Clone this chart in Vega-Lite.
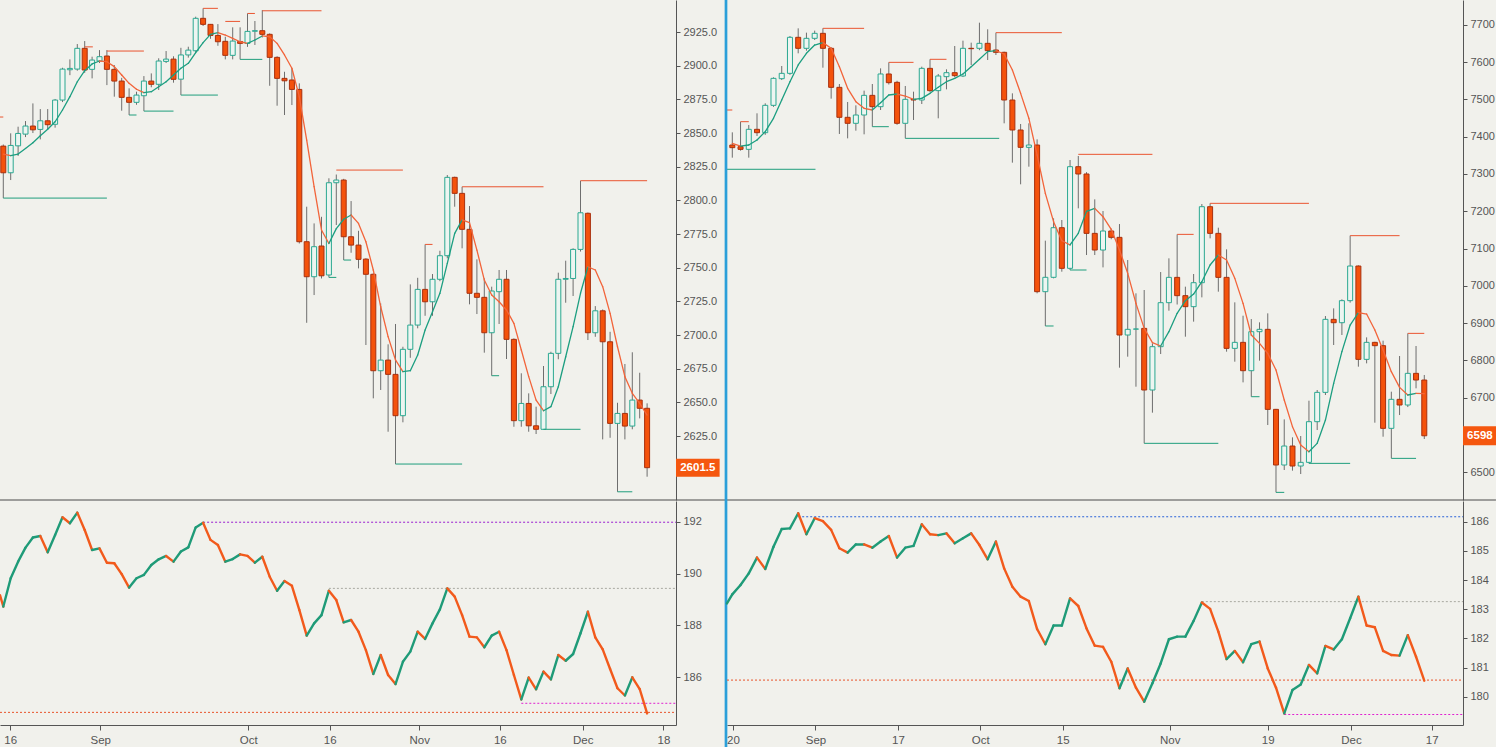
{
  "$schema": "https://vega.github.io/schema/vega-lite/v6.json",
  "width": 676,
  "height": 725,
  "padding": {"left": 0, "top": 0, "right": 820, "bottom": 22},
  "autosize": {"type": "none"},
  "background": "#f1f1ec",
  "config": {
    "view": {"stroke": null},
    "axis": {"labelFont": "Liberation Sans", "labelFontSize": 11, "labelColor": "#555555", "domainColor": "#555555", "tickColor": "#555555", "tickSize": 4, "grid": false, "labelPadding": 3}
  },
  "datasets": {
    "sp": [
      {"i":0,"o":2840.3,"h":2841.5,"l":2801.7,"c":2820.5,"e":2834.4},
      {"i":1,"o":2820.5,"h":2849.8,"l":2815.1,"c":2840.8,"e":2833.2},
      {"i":2,"o":2840.5,"h":2854.7,"l":2833,"c":2849.7,"e":2834.4},
      {"i":3,"o":2849.2,"h":2858.9,"l":2847,"c":2855.2,"e":2838.6},
      {"i":4,"o":2855.2,"h":2872,"l":2850,"c":2852.4,"e":2842.8},
      {"i":5,"o":2852.7,"h":2867.8,"l":2845.3,"c":2859.1,"e":2848},
      {"i":6,"o":2859.1,"h":2867.8,"l":2853,"c":2856.2,"e":2852.8},
      {"i":7,"o":2856.5,"h":2875.3,"l":2854,"c":2874.5,"e":2858.4},
      {"i":8,"o":2874.5,"h":2898.5,"l":2873,"c":2897.5,"e":2867.1},
      {"i":9,"o":2897,"h":2904.7,"l":2893,"c":2898,"e":2877},
      {"i":10,"o":2897.5,"h":2916.1,"l":2896.3,"c":2912.9,"e":2888.1},
      {"i":11,"o":2912.9,"h":2918.3,"l":2894.7,"c":2896.8,"e":2896.3},
      {"i":12,"o":2897.3,"h":2906.7,"l":2890.6,"c":2904.2,"e":2901.3},
      {"i":13,"o":2903.5,"h":2911.6,"l":2902,"c":2906.7,"e":2903.5},
      {"i":14,"o":2907.2,"h":2911.6,"l":2885.6,"c":2897.3,"e":2903},
      {"i":15,"o":2897.3,"h":2900.5,"l":2877,"c":2888.6,"e":2899.3},
      {"i":16,"o":2888.6,"h":2891,"l":2866.6,"c":2876.5,"e":2893.1},
      {"i":17,"o":2876.5,"h":2883.2,"l":2863.4,"c":2872.8,"e":2886.9},
      {"i":18,"o":2872.8,"h":2880.7,"l":2871,"c":2878.2,"e":2882.5},
      {"i":19,"o":2877.7,"h":2892.3,"l":2866.3,"c":2888.6,"e":2880},
      {"i":20,"o":2888.6,"h":2894.3,"l":2884,"c":2886.2,"e":2880.7},
      {"i":21,"o":2886.2,"h":2905.5,"l":2882,"c":2903.5,"e":2884.4},
      {"i":22,"o":2903.2,"h":2910.9,"l":2902,"c":2904.9,"e":2888.1},
      {"i":23,"o":2904.9,"h":2907,"l":2887.4,"c":2889.9,"e":2893.1},
      {"i":24,"o":2890,"h":2913.3,"l":2878.2,"c":2908,"e":2898.1},
      {"i":25,"o":2908,"h":2914.1,"l":2906,"c":2911.6,"e":2901.8},
      {"i":26,"o":2911.1,"h":2936.4,"l":2910,"c":2935.2,"e":2909.7},
      {"i":27,"o":2935.2,"h":2942.6,"l":2929.5,"c":2930.7,"e":2917.1},
      {"i":28,"o":2930.7,"h":2931,"l":2920,"c":2922.5,"e":2923.3},
      {"i":29,"o":2922.5,"h":2930.9,"l":2914.8,"c":2917.8,"e":2924.5},
      {"i":30,"o":2918.1,"h":2921.5,"l":2904.7,"c":2907.7,"e":2922.8},
      {"i":31,"o":2907.7,"h":2928.5,"l":2904.7,"c":2918.3,"e":2920.3},
      {"i":32,"o":2918,"h":2928.5,"l":2904.7,"c":2916.6,"e":2917.8},
      {"i":33,"o":2916.6,"h":2938.8,"l":2914,"c":2925.5,"e":2916.6},
      {"i":34,"o":2925.6,"h":2933.2,"l":2915.4,"c":2926,"e":2919.1},
      {"i":35,"o":2926,"h":2941.3,"l":2921,"c":2923.3,"e":2922.1},
      {"i":36,"o":2923.3,"h":2924,"l":2885.1,"c":2906.2,"e":2921.5},
      {"i":37,"o":2906.2,"h":2907,"l":2870.3,"c":2890.6,"e":2916.6},
      {"i":38,"o":2890.6,"h":2895.5,"l":2863.4,"c":2888.8,"e":2908},
      {"i":39,"o":2889.4,"h":2898,"l":2870.8,"c":2882.4,"e":2898.1},
      {"i":40,"o":2882.4,"h":2886.9,"l":2768,"c":2769.3,"e":2877},
      {"i":41,"o":2769.3,"h":2795.3,"l":2709.1,"c":2743.3,"e":2844.8},
      {"i":42,"o":2743.3,"h":2782.9,"l":2729.7,"c":2765.6,"e":2810.2},
      {"i":43,"o":2766.1,"h":2787.8,"l":2742,"c":2744,"e":2778},
      {"i":44,"o":2744.6,"h":2816.4,"l":2742.8,"c":2813.1,"e":2768},
      {"i":45,"o":2813.1,"h":2819.2,"l":2781.7,"c":2815.1,"e":2779},
      {"i":46,"o":2815.1,"h":2816,"l":2755.7,"c":2773,"e":2786},
      {"i":47,"o":2773,"h":2799.5,"l":2761.1,"c":2766.8,"e":2789.1},
      {"i":48,"o":2766.8,"h":2777.4,"l":2749.5,"c":2756.2,"e":2782.9},
      {"i":49,"o":2756.4,"h":2757,"l":2692.6,"c":2745.1,"e":2769.3},
      {"i":50,"o":2745.1,"h":2746,"l":2653,"c":2673.5,"e":2748.3},
      {"i":51,"o":2673.5,"h":2723.5,"l":2659.2,"c":2681.4,"e":2721},
      {"i":52,"o":2681.4,"h":2693.1,"l":2628.2,"c":2670.8,"e":2698.8},
      {"i":53,"o":2670.8,"h":2708.2,"l":2604.2,"c":2640.1,"e":2681.5},
      {"i":54,"o":2640.1,"h":2691.3,"l":2635.2,"c":2689.4,"e":2672.8},
      {"i":55,"o":2689.4,"h":2737.6,"l":2683.1,"c":2707.4,"e":2673.5},
      {"i":56,"o":2707.4,"h":2742.5,"l":2705,"c":2733.9,"e":2685.2},
      {"i":57,"o":2733.9,"h":2767.3,"l":2714.3,"c":2724.7,"e":2703.7},
      {"i":58,"o":2724.7,"h":2745.3,"l":2714.3,"c":2741.4,"e":2717.3},
      {"i":59,"o":2741.4,"h":2762.6,"l":2740,"c":2758.9,"e":2731},
      {"i":60,"o":2758.9,"h":2818.8,"l":2757,"c":2817.1,"e":2753.2},
      {"i":61,"o":2817.1,"h":2817.6,"l":2795.3,"c":2805.2,"e":2775.5},
      {"i":62,"o":2805.2,"h":2810.1,"l":2764.4,"c":2778.5,"e":2785.5},
      {"i":63,"o":2778.5,"h":2795.8,"l":2722.8,"c":2731,"e":2783.5},
      {"i":64,"o":2731,"h":2756.2,"l":2715.6,"c":2728,"e":2763.1},
      {"i":65,"o":2728,"h":2742.1,"l":2686.9,"c":2701.7,"e":2740.9},
      {"i":66,"o":2701.7,"h":2735.9,"l":2669.8,"c":2732.7,"e":2729.7},
      {"i":67,"o":2732.2,"h":2748.3,"l":2708.2,"c":2741.4,"e":2724.7},
      {"i":68,"o":2741.4,"h":2748.3,"l":2682.2,"c":2696.8,"e":2718.6},
      {"i":69,"o":2696.8,"h":2697.5,"l":2631.9,"c":2636.4,"e":2708.7},
      {"i":70,"o":2636.4,"h":2671.6,"l":2631.9,"c":2649.2,"e":2688.9},
      {"i":71,"o":2649.2,"h":2656.7,"l":2628.2,"c":2632.6,"e":2669.1},
      {"i":72,"o":2632.6,"h":2646.8,"l":2626.5,"c":2630,"e":2651.7},
      {"i":73,"o":2630,"h":2677,"l":2630,"c":2661.6,"e":2643.8},
      {"i":74,"o":2661.6,"h":2687.6,"l":2656.2,"c":2686.4,"e":2646.8},
      {"i":75,"o":2686.4,"h":2746.3,"l":2682,"c":2741.4,"e":2661.6},
      {"i":76,"o":2741.4,"h":2755.2,"l":2724,"c":2742,"e":2683.9},
      {"i":77,"o":2742,"h":2764.4,"l":2729,"c":2763.6,"e":2706.2},
      {"i":78,"o":2763.6,"h":2814.6,"l":2762,"c":2790.8,"e":2731},
      {"i":79,"o":2790.4,"h":2791,"l":2696.3,"c":2701.7,"e":2750.7},
      {"i":80,"o":2701.7,"h":2721.5,"l":2698.7,"c":2718,"e":2748.3},
      {"i":81,"o":2718,"h":2719,"l":2622.5,"c":2695,"e":2735.9},
      {"i":82,"o":2695,"h":2702.4,"l":2623.7,"c":2634.4,"e":2716.1},
      {"i":83,"o":2634.4,"h":2649.7,"l":2583.6,"c":2641.8,"e":2691.3},
      {"i":84,"o":2641.8,"h":2678.5,"l":2622.5,"c":2632.4,"e":2669.1},
      {"i":85,"o":2632.4,"h":2687.2,"l":2630,"c":2651.7,"e":2656.7},
      {"i":86,"o":2651.7,"h":2672,"l":2638.1,"c":2645.6,"e":2649.3},
      {"i":87,"o":2645.6,"h":2649.3,"l":2594.8,"c":2601.5,"e":2640.6}
    ],
    "spL": [
      {"a":0,"b":14,"v":2801.7,"t":"g"},
      {"a":-0.45,"b":0,"v":2861.9,"t":"r"},
      {"a":11,"b":12.1,"v":2914,"t":"r"},
      {"a":14,"b":19,"v":2910.9,"t":"r"},
      {"a":17,"b":18,"v":2863.4,"t":"g"},
      {"a":19,"b":23,"v":2866.3,"t":"g"},
      {"a":24,"b":29,"v":2878.2,"t":"g"},
      {"a":27,"b":29,"v":2942.6,"t":"r"},
      {"a":30,"b":32,"v":2932.9,"t":"r"},
      {"a":32,"b":35,"v":2904.7,"t":"g"},
      {"a":33,"b":34,"v":2938.8,"t":"r"},
      {"a":35,"b":43,"v":2940.8,"t":"r"},
      {"a":44,"b":45,"v":2742.8,"t":"g"},
      {"a":45,"b":54,"v":2822.5,"t":"r"},
      {"a":46,"b":47,"v":2755.7,"t":"g"},
      {"a":53,"b":62,"v":2604.2,"t":"g"},
      {"a":57,"b":58,"v":2767.3,"t":"r"},
      {"a":62,"b":73,"v":2810.1,"t":"r"},
      {"a":66,"b":67,"v":2669.8,"t":"g"},
      {"a":73,"b":78,"v":2630,"t":"g"},
      {"a":78,"b":87,"v":2814.6,"t":"r"},
      {"a":83,"b":85,"v":2583.6,"t":"g"}
    ],
    "spI": [
      {"i":-0.45,"v":189.17},{"i":0,"v":188.73},{"i":1,"v":189.82},{"i":2,"v":190.46},{"i":3,"v":191.0},
      {"i":4,"v":191.39},{"i":5,"v":191.45},{"i":6,"v":190.82},{"i":7,"v":191.49},{"i":8,"v":192.17},
      {"i":9,"v":191.94},{"i":10,"v":192.35},{"i":11,"v":191.68},{"i":12,"v":190.91},{"i":13,"v":190.97},
      {"i":14,"v":190.42},{"i":15,"v":190.40},{"i":16,"v":189.98},{"i":17,"v":189.46},{"i":18,"v":189.82},
      {"i":19,"v":189.95},{"i":20,"v":190.33},{"i":21,"v":190.55},{"i":22,"v":190.68},{"i":23,"v":190.46},
      {"i":24,"v":190.85},{"i":25,"v":191.01},{"i":26,"v":191.78},{"i":27,"v":191.96},{"i":28,"v":191.30},
      {"i":29,"v":191.10},{"i":30,"v":190.46},{"i":31,"v":190.56},{"i":32,"v":190.74},{"i":33,"v":190.68},
      {"i":34,"v":190.42},{"i":35,"v":190.65},{"i":36,"v":189.88},{"i":37,"v":189.34},{"i":38,"v":189.71},
      {"i":39,"v":189.53},{"i":40,"v":188.60},{"i":41,"v":187.61},{"i":42,"v":188.08},{"i":43,"v":188.40},
      {"i":44,"v":189.34},{"i":45,"v":188.98},{"i":46,"v":188.12},{"i":47,"v":188.21},{"i":48,"v":187.76},
      {"i":49,"v":187.05},{"i":50,"v":186.13},{"i":51,"v":186.86},{"i":52,"v":186.09},{"i":53,"v":185.74},
      {"i":54,"v":186.60},{"i":55,"v":186.99},{"i":56,"v":187.76},{"i":57,"v":187.48},{"i":58,"v":188.08},
      {"i":59,"v":188.62},{"i":60,"v":189.43},{"i":61,"v":189.11},{"i":62,"v":188.40},{"i":63,"v":187.57},
      {"i":64,"v":187.54},{"i":65,"v":187.16},{"i":66,"v":187.61},{"i":67,"v":187.76},{"i":68,"v":187.05},
      {"i":69,"v":186.09},{"i":70,"v":185.15},{"i":71,"v":185.99},{"i":72,"v":185.54},{"i":73,"v":186.22},
      {"i":74,"v":185.92},{"i":75,"v":186.86},{"i":76,"v":186.64},{"i":77,"v":186.90},{"i":78,"v":187.70},
      {"i":79,"v":188.53},{"i":80,"v":187.54},{"i":81,"v":187.08},{"i":82,"v":186.32},{"i":83,"v":185.58},
      {"i":84,"v":185.30},{"i":85,"v":186.0},{"i":86,"v":185.55},{"i":87,"v":184.61}
    ],
    "spD": [
      {"a":27,"b":90.905,"v":191.98,"col":"#9a1ed0"},
      {"a":44,"b":90.905,"v":189.43,"col":"#a8a8a0"},
      {"a":70,"b":90.905,"v":185.0,"col":"#e020d0"},
      {"a":-0.446,"b":90.905,"v":184.65,"col":"#e8542a"}
    ],
    "nq": [
      {"i":0,"o":7377.7,"h":7411.7,"l":7343.8,"c":7370.6,"e":7382.2},
      {"i":1,"o":7373.3,"h":7440.3,"l":7362.6,"c":7366.1,"e":7375},
      {"i":2,"o":7366.1,"h":7431.4,"l":7343.8,"c":7419.8,"e":7377.7},
      {"i":3,"o":7419.8,"h":7462.7,"l":7401.9,"c":7410.8,"e":7391.2},
      {"i":4,"o":7410.8,"h":7489.5,"l":7405,"c":7484.1,"e":7413.5},
      {"i":5,"o":7484.1,"h":7559.2,"l":7480,"c":7556.5,"e":7449.3},
      {"i":6,"o":7555.6,"h":7589.6,"l":7552,"c":7569.9,"e":7498.4},
      {"i":7,"o":7569.9,"h":7670,"l":7566,"c":7666.5,"e":7547.6},
      {"i":8,"o":7666.5,"h":7690.6,"l":7623.6,"c":7637,"e":7592.3},
      {"i":9,"o":7637,"h":7679,"l":7630.7,"c":7663.8,"e":7623.6},
      {"i":10,"o":7663.8,"h":7684.4,"l":7659.3,"c":7677.2,"e":7645.9},
      {"i":11,"o":7677.2,"h":7690.6,"l":7585.1,"c":7637,"e":7652.2},
      {"i":12,"o":7637,"h":7640,"l":7502,"c":7532.4,"e":7637},
      {"i":13,"o":7532.4,"h":7541.3,"l":7407.3,"c":7452,"e":7587.8},
      {"i":14,"o":7452,"h":7493.1,"l":7395.6,"c":7435.9,"e":7529.7},
      {"i":15,"o":7435.9,"h":7484.1,"l":7416.2,"c":7458.2,"e":7494},
      {"i":16,"o":7458.2,"h":7523.5,"l":7406.4,"c":7510.9,"e":7476.1},
      {"i":17,"o":7510.9,"h":7541.3,"l":7426.9,"c":7480.5,"e":7471.6},
      {"i":18,"o":7480.5,"h":7583.3,"l":7471.6,"c":7568.2,"e":7491.3},
      {"i":19,"o":7568.2,"h":7599.4,"l":7540,"c":7544.9,"e":7511.8},
      {"i":20,"o":7545.8,"h":7550,"l":7432,"c":7435.9,"e":7514.5},
      {"i":21,"o":7435.9,"h":7536,"l":7395.6,"c":7500.2,"e":7509.1},
      {"i":22,"o":7500.2,"h":7520.8,"l":7444.8,"c":7498.4,"e":7500.2},
      {"i":23,"o":7498.4,"h":7587.8,"l":7487.7,"c":7583.3,"e":7502.9},
      {"i":24,"o":7583.3,"h":7607.5,"l":7520,"c":7523.5,"e":7516.3},
      {"i":25,"o":7523.5,"h":7568.2,"l":7449.3,"c":7562.8,"e":7532.4},
      {"i":26,"o":7561,"h":7580.7,"l":7527,"c":7571.7,"e":7547.6},
      {"i":27,"o":7571.7,"h":7643.2,"l":7560,"c":7563.7,"e":7556.5},
      {"i":28,"o":7562.8,"h":7657.5,"l":7560,"c":7637,"e":7568.2},
      {"i":29,"o":7637,"h":7652.2,"l":7592.3,"c":7636,"e":7587.8},
      {"i":30,"o":7637,"h":7705.8,"l":7632,"c":7650.4,"e":7607.5},
      {"i":31,"o":7650.4,"h":7688,"l":7605.7,"c":7630.7,"e":7628.1},
      {"i":32,"o":7632.5,"h":7679,"l":7619.1,"c":7626.3,"e":7630.7},
      {"i":33,"o":7626.3,"h":7628,"l":7435.9,"c":7498.4,"e":7621.8},
      {"i":34,"o":7498.4,"h":7516.3,"l":7330.4,"c":7418,"e":7578.9},
      {"i":35,"o":7418,"h":7434.1,"l":7272.3,"c":7371.5,"e":7516.3},
      {"i":36,"o":7371.5,"h":7435.9,"l":7319.6,"c":7377.7,"e":7449.3},
      {"i":37,"o":7377.7,"h":7392.9,"l":6980,"c":6984.4,"e":7351},
      {"i":38,"o":6984.4,"h":7121.2,"l":6892.4,"c":7022.9,"e":7248.1},
      {"i":39,"o":7022.9,"h":7181.1,"l":7020.2,"c":7156,"e":7172.2},
      {"i":40,"o":7156,"h":7176.6,"l":7038,"c":7047,"e":7121.2},
      {"i":41,"o":7047,"h":7337.5,"l":7042.5,"c":7319.6,"e":7109.6},
      {"i":42,"o":7319.6,"h":7348.2,"l":7207.9,"c":7300,"e":7140.9},
      {"i":43,"o":7300,"h":7305,"l":7082.7,"c":7140.8,"e":7200},
      {"i":44,"o":7140.8,"h":7232,"l":7082.7,"c":7096.1,"e":7207.9},
      {"i":45,"o":7096.1,"h":7200.7,"l":7049.6,"c":7147.1,"e":7185.5},
      {"i":46,"o":7147.1,"h":7153.3,"l":7125,"c":7130.1,"e":7151.6},
      {"i":47,"o":7130.1,"h":7165.8,"l":6780.6,"c":6868.2,"e":7096.1},
      {"i":48,"o":6868.2,"h":7069.3,"l":6810.1,"c":6883.4,"e":7033.6},
      {"i":49,"o":6884,"h":6980,"l":6729.6,"c":6884.3,"e":6953.1},
      {"i":50,"o":6886,"h":6988.9,"l":6577.7,"c":6720.7,"e":6886},
      {"i":51,"o":6720.7,"h":6845.8,"l":6659.9,"c":6836.9,"e":6847.6},
      {"i":52,"o":6836.9,"h":7037.1,"l":6817.2,"c":6954.9,"e":6838.7},
      {"i":53,"o":6954.9,"h":7073.8,"l":6933.4,"c":7022.8,"e":6877.1},
      {"i":54,"o":7022.8,"h":7138.1,"l":6950,"c":6973.7,"e":6926.3},
      {"i":55,"o":6973.7,"h":6997.8,"l":6863.7,"c":6944.2,"e":6960.3},
      {"i":56,"o":6944.2,"h":7031.8,"l":6904,"c":7008.5,"e":6978.1},
      {"i":57,"o":7008.5,"h":7219.5,"l":6969.2,"c":7212.3,"e":7011.2},
      {"i":58,"o":7212.3,"h":7221.3,"l":7127.4,"c":7140.8,"e":7055.9},
      {"i":59,"o":7140.8,"h":7156,"l":6984.4,"c":7022.8,"e":7082.7},
      {"i":60,"o":7022.8,"h":7097.9,"l":6823.5,"c":6832.4,"e":7069.3},
      {"i":61,"o":6832.4,"h":6955.8,"l":6796.7,"c":6848.5,"e":7020.2},
      {"i":62,"o":6848.5,"h":6920,"l":6741.2,"c":6772.5,"e":6953.1},
      {"i":63,"o":6772.5,"h":6911,"l":6702.8,"c":6877.1,"e":6868.2},
      {"i":64,"o":6877.1,"h":6902.2,"l":6799.4,"c":6883.4,"e":6845.8},
      {"i":65,"o":6883.4,"h":6926.3,"l":6626.8,"c":6668.8,"e":6819},
      {"i":66,"o":6668.8,"h":6670,"l":6446.2,"c":6519.6,"e":6774.3},
      {"i":67,"o":6519.6,"h":6642,"l":6506.2,"c":6570.5,"e":6693.9},
      {"i":68,"o":6570.5,"h":6593.8,"l":6504.4,"c":6516.9,"e":6622.4},
      {"i":69,"o":6516.9,"h":6597.3,"l":6495.4,"c":6526.7,"e":6573.2},
      {"i":70,"o":6526.7,"h":6692,"l":6524,"c":6635.8,"e":6555.3},
      {"i":71,"o":6635.8,"h":6720.7,"l":6613.4,"c":6714.4,"e":6577.7},
      {"i":72,"o":6714.4,"h":6919.1,"l":6707.3,"c":6910.2,"e":6640.2},
      {"i":73,"o":6910.2,"h":6939.7,"l":6841.4,"c":6901.2,"e":6738.6},
      {"i":74,"o":6901.2,"h":6963.8,"l":6868.2,"c":6960.3,"e":6823.5},
      {"i":75,"o":6960.3,"h":7134.6,"l":6955,"c":7053.2,"e":6895},
      {"i":76,"o":7053.2,"h":7055,"l":6783.3,"c":6802.9,"e":6928.1},
      {"i":77,"o":6802.9,"h":6861.9,"l":6792.2,"c":6848.5,"e":6924.5},
      {"i":78,"o":6848.5,"h":6850,"l":6633.1,"c":6839.6,"e":6881.6},
      {"i":79,"o":6839.6,"h":6853,"l":6595.5,"c":6617.9,"e":6828},
      {"i":80,"o":6617.9,"h":6716.2,"l":6537.4,"c":6695.7,"e":6769.9},
      {"i":81,"o":6695.7,"h":6811.9,"l":6653.6,"c":6680.5,"e":6727.8},
      {"i":82,"o":6680.5,"h":6872.6,"l":6675,"c":6765.4,"e":6707.3},
      {"i":83,"o":6765.4,"h":6838.7,"l":6725.2,"c":6747.5,"e":6711.7},
      {"i":84,"o":6747.5,"h":6761,"l":6589.3,"c":6598,"e":6711.0}
    ],
    "nqL": [
      {"a":-0.64,"b":0,"v":7471.6,"t":"r"},
      {"a":-0.64,"b":10.1,"v":7312.6,"t":"g"},
      {"a":1,"b":2,"v":7440.3,"t":"r"},
      {"a":11,"b":16,"v":7690.6,"t":"r"},
      {"a":17,"b":19,"v":7426.9,"t":"g"},
      {"a":19,"b":22,"v":7599.4,"t":"r"},
      {"a":21,"b":32.4,"v":7395.6,"t":"g"},
      {"a":24,"b":26,"v":7607.5,"t":"r"},
      {"a":32,"b":40,"v":7679,"t":"r"},
      {"a":38,"b":39,"v":6892.4,"t":"g"},
      {"a":41,"b":43,"v":7042.5,"t":"g"},
      {"a":42,"b":51,"v":7352.7,"t":"r"},
      {"a":50,"b":59,"v":6577.7,"t":"g"},
      {"a":54,"b":56,"v":7138.1,"t":"r"},
      {"a":58,"b":70,"v":7221.3,"t":"r"},
      {"a":63,"b":64,"v":6702.8,"t":"g"},
      {"a":66,"b":67,"v":6446.2,"t":"g"},
      {"a":70,"b":75,"v":6524,"t":"g"},
      {"a":75,"b":81,"v":7134.6,"t":"r"},
      {"a":80,"b":83,"v":6537.4,"t":"g"},
      {"a":82,"b":84,"v":6872.6,"t":"r"}
    ],
    "nqI": [
      {"i":-0.65,"v":183.20},{"i":0,"v":183.51},{"i":1,"v":183.83},{"i":2,"v":184.23},{"i":3,"v":184.77},
      {"i":4,"v":184.38},{"i":5,"v":185.14},{"i":6,"v":185.75},{"i":7,"v":185.77},{"i":8,"v":186.29},
      {"i":9,"v":185.57},{"i":10,"v":186.12},{"i":11,"v":186.02},{"i":12,"v":185.72},{"i":13,"v":185.09},
      {"i":14,"v":184.94},{"i":15,"v":185.22},{"i":16,"v":185.22},{"i":17,"v":185.11},{"i":18,"v":185.32},
      {"i":19,"v":185.51},{"i":20,"v":184.77},{"i":21,"v":185.11},{"i":22,"v":185.17},{"i":23,"v":185.91},
      {"i":24,"v":185.57},{"i":25,"v":185.54},{"i":26,"v":185.60},{"i":27,"v":185.26},{"i":28,"v":185.43},
      {"i":29,"v":185.60},{"i":30,"v":185.20},{"i":31,"v":184.71},{"i":32,"v":185.32},{"i":33,"v":184.40},
      {"i":34,"v":183.77},{"i":35,"v":183.43},{"i":36,"v":183.28},{"i":37,"v":182.32},{"i":38,"v":181.80},
      {"i":39,"v":182.44},{"i":40,"v":182.44},{"i":41,"v":183.37},{"i":42,"v":183.11},{"i":43,"v":182.34},
      {"i":44,"v":181.75},{"i":45,"v":181.71},{"i":46,"v":181.20},{"i":47,"v":180.29},{"i":48,"v":180.97},
      {"i":49,"v":180.31},{"i":50,"v":179.83},{"i":51,"v":180.46},{"i":52,"v":181.14},{"i":53,"v":181.97},
      {"i":54,"v":182.06},{"i":55,"v":182.06},{"i":56,"v":182.60},{"i":57,"v":183.23},{"i":58,"v":183.01},
      {"i":59,"v":182.23},{"i":60,"v":181.29},{"i":61,"v":181.57},{"i":62,"v":181.18},{"i":63,"v":181.80},
      {"i":64,"v":181.89},{"i":65,"v":180.97},{"i":66,"v":180.31},{"i":67,"v":179.43},{"i":68,"v":180.23},
      {"i":69,"v":180.42},{"i":70,"v":181.09},{"i":71,"v":180.80},{"i":72,"v":181.74},{"i":73,"v":181.62},
      {"i":74,"v":181.97},{"i":75,"v":182.69},{"i":76,"v":183.43},{"i":77,"v":182.44},{"i":78,"v":182.38},
      {"i":79,"v":181.57},{"i":80,"v":181.43},{"i":81,"v":181.41},{"i":82,"v":182.11},{"i":83,"v":181.37},
      {"i":84,"v":180.55}
    ],
    "nqD": [
      {"a":8,"b":88.7,"v":186.17,"col":"#2a62d8"},
      {"a":57,"b":88.7,"v":183.26,"col":"#a8a8a0"},
      {"a":67,"b":88.7,"v":179.39,"col":"#e020d0"},
      {"a":-0.643,"b":88.7,"v":180.57,"col":"#e8542a"}
    ],
    "spLast": [{"p":2601.5,"lab":"2601.5"}],
    "nqLast": [{"p":6598,"lab":"6598"}]
  },
  "layer": [
    {
      "data": {"name": "sp"},
      "mark": {"type": "rule", "color": "#6e6e6e", "strokeWidth": 1},
      "encoding": {
        "x": {"field": "i", "type": "quantitative", "title": null, "axis": null, "scale": {"domain": [-0.446, 90.905], "range": [0, 676], "nice": false, "zero": false, "padding": 0}},
        "y": {"field": "l", "type": "quantitative", "title": null, "scale": {"domain": [2577.5, 2948.8], "range": [500, 0], "nice": false, "zero": false, "padding": 0},
              "axis": {"orient": "right", "offset": 0, "values": [2625, 2650, 2675, 2700, 2725, 2750, 2775, 2800, 2825, 2850, 2875, 2900, 2925, 2950], "format": ".1f", "labelFlush": false, "labelOverlap": false, "labelBound": false}},
        "y2": {"field": "h"}
      }
    },
    {
      "data": {"name": "sp"},
      "mark": {"type": "bar", "width": 5, "strokeWidth": 1},
      "encoding": {
        "x": {"field": "i", "type": "quantitative", "title": null, "axis": null, "scale": {"domain": [-0.446, 90.905], "range": [0, 676], "nice": false, "zero": false, "padding": 0}},
        "y": {"field": "o", "type": "quantitative", "title": null, "axis": null, "scale": {"domain": [2577.5, 2948.8], "range": [500, 0], "nice": false, "zero": false, "padding": 0}},
        "y2": {"field": "c"},
        "fill": {"condition": {"test": "datum.c >= datum.o", "value": "#edf5f1"}, "value": "#f4520c"},
        "stroke": {"condition": {"test": "datum.c >= datum.o", "value": "#2aa891"}, "value": "#a8300e"}
      }
    },
    {
      "data": {"name": "sp"},
      "transform": [
        {"window": [{"op": "lead", "field": "e", "as": "ne"}, {"op": "lead", "field": "i", "as": "ni"}], "sort": [{"field": "i"}]},
        {"filter": "isValid(datum.ne)"}
      ],
      "mark": {"type": "rule", "strokeWidth": 1.3, "strokeCap": "round"},
      "encoding": {
        "x": {"field": "i", "type": "quantitative", "title": null, "axis": null, "scale": {"domain": [-0.446, 90.905], "range": [0, 676], "nice": false, "zero": false, "padding": 0}},
        "x2": {"field": "ni"},
        "y": {"field": "e", "type": "quantitative", "title": null, "axis": null, "scale": {"domain": [2577.5, 2948.8], "range": [500, 0], "nice": false, "zero": false, "padding": 0}},
        "y2": {"field": "ne"},
        "color": {"condition": {"test": "datum.ne >= datum.e", "value": "#1c9e80"}, "value": "#f2643a"}
      }
    },
    {
      "data": {"name": "spL"},
      "mark": {"type": "rule", "strokeWidth": 1},
      "encoding": {
        "x": {"field": "a", "type": "quantitative", "title": null, "axis": null, "scale": {"domain": [-0.446, 90.905], "range": [0, 676], "nice": false, "zero": false, "padding": 0}},
        "x2": {"field": "b"},
        "y": {"field": "v", "type": "quantitative", "title": null, "axis": null, "scale": {"domain": [2577.5, 2948.8], "range": [500, 0], "nice": false, "zero": false, "padding": 0}},
        "color": {"condition": {"test": "datum.t == 'g'", "value": "#1f9e7c"}, "value": "#ea5530"}
      }
    },
    {
      "data": {"name": "spLast"},
      "mark": {"type": "bar", "height": 18, "color": "#f5570f"},
      "encoding": {
        "x": {"datum": 90.905, "type": "quantitative", "title": null, "axis": null, "scale": {"domain": [-0.446, 90.905], "range": [0, 676], "nice": false, "zero": false, "padding": 0}},
        "x2": {"datum": 96.8},
        "y": {"field": "p", "type": "quantitative", "title": null, "axis": null, "scale": {"domain": [2577.5, 2948.8], "range": [500, 0], "nice": false, "zero": false, "padding": 0}}
      }
    },
    {
      "data": {"name": "spLast"},
      "mark": {"type": "text", "color": "#ffffff", "font": "Liberation Sans", "fontSize": 11.5, "fontWeight": "bold", "align": "center", "baseline": "middle"},
      "encoding": {
        "x": {"datum": 93.85, "type": "quantitative", "title": null, "axis": null, "scale": {"domain": [-0.446, 90.905], "range": [0, 676], "nice": false, "zero": false, "padding": 0}},
        "y": {"field": "p", "type": "quantitative", "title": null, "axis": null, "scale": {"domain": [2577.5, 2948.8], "range": [500, 0], "nice": false, "zero": false, "padding": 0}},
        "text": {"field": "lab"}
      }
    },
    {
      "data": {"values": [{}]},
      "mark": {"type": "rule", "color": "#4a4a4a", "strokeWidth": 1},
      "encoding": {
        "x": {"datum": -0.446, "type": "quantitative", "title": null, "axis": null, "scale": {"domain": [-0.446, 90.905], "range": [0, 676], "nice": false, "zero": false, "padding": 0}},
        "x2": {"datum": 97.53},
        "y": {"datum": 2577.5, "type": "quantitative", "title": null, "axis": null, "scale": {"domain": [2577.5, 2948.8], "range": [500, 0], "nice": false, "zero": false, "padding": 0}}
      }
    },
    {
      "data": {"name": "spD"},
      "mark": {"type": "rule", "strokeWidth": 1, "strokeDash": [2, 2]},
      "encoding": {
        "x": {"field": "a", "type": "quantitative", "title": null, "scale": {"domain": [-0.446, 90.905], "range": [0, 676], "nice": false, "zero": false, "padding": 0},
              "axis": {"orient": "bottom", "offset": 0, "values": [0.93, 13.1, 33.1, 44.1, 56.2, 67.1, 78.3, 89.2], "labelExpr": "datum.value < 5 ? '16' : datum.value < 20 ? 'Sep' : datum.value < 40 ? 'Oct' : datum.value < 50 ? '16' : datum.value < 60 ? 'Nov' : datum.value < 70 ? '16' : datum.value < 85 ? 'Dec' : '18'", "labelFlush": false, "labelOverlap": false, "tickSize": 5, "labelPadding": 4, "labelFontSize": 11.5}},
        "x2": {"field": "b"},
        "y": {"field": "v", "type": "quantitative", "title": null, "scale": {"domain": [184.163, 192.798], "range": [725, 501], "nice": false, "zero": false, "padding": 0},
              "axis": {"orient": "right", "offset": 0, "values": [186, 188, 190, 192], "format": "d", "labelFlush": false, "labelOverlap": false}},
        "color": {"field": "col", "type": "nominal", "scale": null}
      }
    },
    {
      "data": {"name": "spI"},
      "transform": [
        {"window": [{"op": "lead", "field": "v", "as": "nv"}, {"op": "lead", "field": "i", "as": "ni"}], "sort": [{"field": "i"}]},
        {"filter": "isValid(datum.nv)"}
      ],
      "mark": {"type": "rule", "strokeWidth": 2.4, "strokeCap": "round"},
      "encoding": {
        "x": {"field": "i", "type": "quantitative", "title": null, "axis": null, "scale": {"domain": [-0.446, 90.905], "range": [0, 676], "nice": false, "zero": false, "padding": 0}},
        "x2": {"field": "ni"},
        "y": {"field": "v", "type": "quantitative", "title": null, "axis": null, "scale": {"domain": [184.163, 192.798], "range": [725, 501], "nice": false, "zero": false, "padding": 0}},
        "y2": {"field": "nv"},
        "color": {"condition": {"test": "datum.nv >= datum.v", "value": "#1f9b78"}, "value": "#f25a1c"}
      }
    },
    {
      "data": {"name": "nq"},
      "mark": {"type": "rule", "color": "#6e6e6e", "strokeWidth": 1},
      "encoding": {
        "x": {"field": "i", "type": "quantitative", "title": null, "axis": null, "scale": {"domain": [-0.643, 88.7], "range": [727, 1463], "nice": false, "zero": false, "padding": 0}},
        "y": {"field": "l", "type": "quantitative", "title": null, "scale": {"domain": [6425.75, 7766.6], "range": [500, 0], "nice": false, "zero": false, "padding": 0},
              "axis": {"orient": "right", "offset": 787, "values": [6500, 6700, 6800, 6900, 7000, 7100, 7200, 7300, 7400, 7500, 7600, 7700], "format": "d", "labelFlush": false, "labelOverlap": false}},
        "y2": {"field": "h"}
      }
    },
    {
      "data": {"name": "nq"},
      "mark": {"type": "bar", "width": 5, "strokeWidth": 1},
      "encoding": {
        "x": {"field": "i", "type": "quantitative", "title": null, "axis": null, "scale": {"domain": [-0.643, 88.7], "range": [727, 1463], "nice": false, "zero": false, "padding": 0}},
        "y": {"field": "o", "type": "quantitative", "title": null, "axis": null, "scale": {"domain": [6425.75, 7766.6], "range": [500, 0], "nice": false, "zero": false, "padding": 0}},
        "y2": {"field": "c"},
        "fill": {"condition": {"test": "datum.c >= datum.o", "value": "#edf5f1"}, "value": "#f4520c"},
        "stroke": {"condition": {"test": "datum.c >= datum.o", "value": "#2aa891"}, "value": "#a8300e"}
      }
    },
    {
      "data": {"name": "nq"},
      "transform": [
        {"window": [{"op": "lead", "field": "e", "as": "ne"}, {"op": "lead", "field": "i", "as": "ni"}], "sort": [{"field": "i"}]},
        {"filter": "isValid(datum.ne)"}
      ],
      "mark": {"type": "rule", "strokeWidth": 1.3, "strokeCap": "round"},
      "encoding": {
        "x": {"field": "i", "type": "quantitative", "title": null, "axis": null, "scale": {"domain": [-0.643, 88.7], "range": [727, 1463], "nice": false, "zero": false, "padding": 0}},
        "x2": {"field": "ni"},
        "y": {"field": "e", "type": "quantitative", "title": null, "axis": null, "scale": {"domain": [6425.75, 7766.6], "range": [500, 0], "nice": false, "zero": false, "padding": 0}},
        "y2": {"field": "ne"},
        "color": {"condition": {"test": "datum.ne >= datum.e", "value": "#1c9e80"}, "value": "#f2643a"}
      }
    },
    {
      "data": {"name": "nqL"},
      "mark": {"type": "rule", "strokeWidth": 1},
      "encoding": {
        "x": {"field": "a", "type": "quantitative", "title": null, "axis": null, "scale": {"domain": [-0.643, 88.7], "range": [727, 1463], "nice": false, "zero": false, "padding": 0}},
        "x2": {"field": "b"},
        "y": {"field": "v", "type": "quantitative", "title": null, "axis": null, "scale": {"domain": [6425.75, 7766.6], "range": [500, 0], "nice": false, "zero": false, "padding": 0}},
        "color": {"condition": {"test": "datum.t == 'g'", "value": "#1f9e7c"}, "value": "#ea5530"}
      }
    },
    {
      "data": {"name": "nqLast"},
      "mark": {"type": "bar", "height": 19, "color": "#f5570f"},
      "encoding": {
        "x": {"datum": 88.7, "type": "quantitative", "title": null, "axis": null, "scale": {"domain": [-0.643, 88.7], "range": [727, 1463], "nice": false, "zero": false, "padding": 0}},
        "x2": {"datum": 92.8},
        "y": {"field": "p", "type": "quantitative", "title": null, "axis": null, "scale": {"domain": [6425.75, 7766.6], "range": [500, 0], "nice": false, "zero": false, "padding": 0}}
      }
    },
    {
      "data": {"name": "nqLast"},
      "mark": {"type": "text", "color": "#ffffff", "font": "Liberation Sans", "fontSize": 11.5, "fontWeight": "bold", "align": "center", "baseline": "middle"},
      "encoding": {
        "x": {"datum": 90.75, "type": "quantitative", "title": null, "axis": null, "scale": {"domain": [-0.643, 88.7], "range": [727, 1463], "nice": false, "zero": false, "padding": 0}},
        "y": {"field": "p", "type": "quantitative", "title": null, "axis": null, "scale": {"domain": [6425.75, 7766.6], "range": [500, 0], "nice": false, "zero": false, "padding": 0}},
        "text": {"field": "lab"}
      }
    },
    {
      "data": {"values": [{}]},
      "mark": {"type": "rule", "color": "#4a4a4a", "strokeWidth": 1},
      "encoding": {
        "x": {"datum": -0.643, "type": "quantitative", "title": null, "axis": null, "scale": {"domain": [-0.643, 88.7], "range": [727, 1463], "nice": false, "zero": false, "padding": 0}},
        "x2": {"datum": 92.7},
        "y": {"datum": 6425.75, "type": "quantitative", "title": null, "axis": null, "scale": {"domain": [6425.75, 7766.6], "range": [500, 0], "nice": false, "zero": false, "padding": 0}}
      }
    },
    {
      "data": {"values": [{}]},
      "mark": {"type": "rule", "color": "#2b9fd9", "strokeWidth": 2.7},
      "encoding": {
        "x": {"datum": -0.765, "type": "quantitative", "title": null, "axis": null, "scale": {"domain": [-0.643, 88.7], "range": [727, 1463], "nice": false, "zero": false, "padding": 0}},
        "y": {"datum": 7766.6, "type": "quantitative", "title": null, "axis": null, "scale": {"domain": [6425.75, 7766.6], "range": [500, 0], "nice": false, "zero": false, "padding": 0}},
        "y2": {"datum": 5763}
      }
    },
    {
      "data": {"name": "nqD"},
      "mark": {"type": "rule", "strokeWidth": 1, "strokeDash": [2, 2]},
      "encoding": {
        "x": {"field": "a", "type": "quantitative", "title": null, "scale": {"domain": [-0.643, 88.7], "range": [727, 1463], "nice": false, "zero": false, "padding": 0},
              "axis": {"orient": "bottom", "offset": 0, "values": [0.07, 10.1, 20.1, 30.1, 40.1, 53.1, 65.0, 75.1, 84.9], "labelExpr": "datum.value < 5 ? '20' : datum.value < 15 ? 'Sep' : datum.value < 25 ? '17' : datum.value < 35 ? 'Oct' : datum.value < 45 ? '15' : datum.value < 60 ? 'Nov' : datum.value < 70 ? '19' : datum.value < 80 ? 'Dec' : '17'", "labelFlush": false, "labelOverlap": false, "tickSize": 5, "labelPadding": 4, "labelFontSize": 11.5}},
        "x2": {"field": "b"},
        "y": {"field": "v", "type": "quantitative", "title": null, "scale": {"domain": [179.03, 186.71], "range": [725, 501], "nice": false, "zero": false, "padding": 0},
              "axis": {"orient": "right", "offset": 787, "values": [180, 181, 182, 183, 184, 185, 186], "format": "d", "labelFlush": false, "labelOverlap": false}},
        "color": {"field": "col", "type": "nominal", "scale": null}
      }
    },
    {
      "data": {"name": "nqI"},
      "transform": [
        {"window": [{"op": "lead", "field": "v", "as": "nv"}, {"op": "lead", "field": "i", "as": "ni"}], "sort": [{"field": "i"}]},
        {"filter": "isValid(datum.nv)"}
      ],
      "mark": {"type": "rule", "strokeWidth": 2.4, "strokeCap": "round"},
      "encoding": {
        "x": {"field": "i", "type": "quantitative", "title": null, "axis": null, "scale": {"domain": [-0.643, 88.7], "range": [727, 1463], "nice": false, "zero": false, "padding": 0}},
        "x2": {"field": "ni"},
        "y": {"field": "v", "type": "quantitative", "title": null, "axis": null, "scale": {"domain": [179.03, 186.71], "range": [725, 501], "nice": false, "zero": false, "padding": 0}},
        "y2": {"field": "nv"},
        "color": {"condition": {"test": "datum.nv >= datum.v", "value": "#1f9b78"}, "value": "#f25a1c"}
      }
    }
  ],
  "resolve": {"scale": {"x": "independent", "y": "independent"}, "axis": {"x": "independent", "y": "independent"}}
}
